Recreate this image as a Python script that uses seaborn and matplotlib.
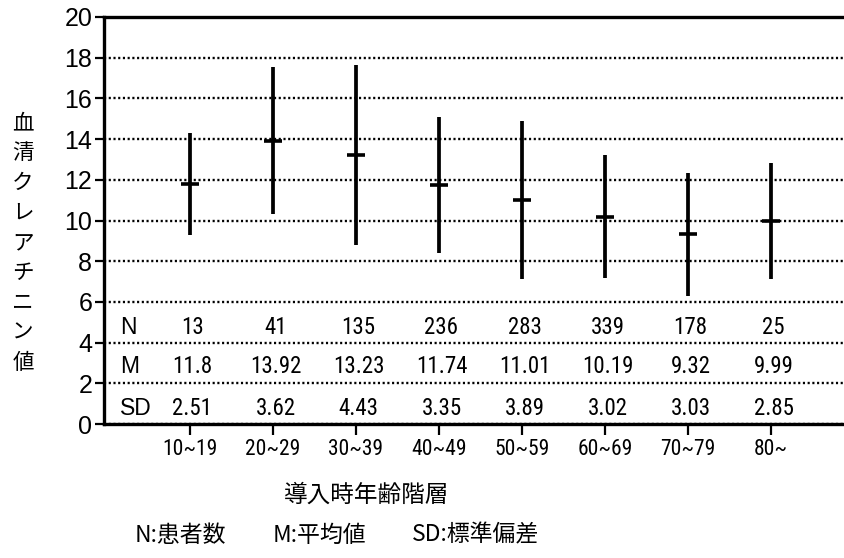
import matplotlib
matplotlib.use('Agg')
import matplotlib.pyplot as plt
from matplotlib import font_manager
import seaborn as sns
import pandas as pd

age_groups = ['10~19', '20~29', '30~39', '40~49', '50~59', '60~69', '70~79', '80~']
n_patients = [13, 41, 135, 236, 283, 339, 178, 25]
mean_values = [11.8, 13.92, 13.23, 11.74, 11.01, 10.19, 9.32, 9.99]
sd_values = [2.51, 3.62, 4.43, 3.35, 3.89, 3.02, 3.03, 2.85]
y_ticks = list(range(0, 21, 2))
ylabel_chars = list('血清クレアチニン値')
xlabel_text = '導入時年齢階層'
legend_texts = ['N:患者数', 'M:平均値', 'SD:標準偏差']


def pick_font(names):
    have = {f.name for f in font_manager.fontManager.ttflist}
    for n in names:
        if n in have:
            return n
    return 'DejaVu Sans'


sns.set_theme(style='ticks')
regular = pick_font(['Liberation Sans', 'Arial', 'DejaVu Sans'])
narrow = pick_font(['Liberation Sans Narrow', 'Roboto Condensed', 'Archivo Narrow', regular])
cjk = 'Noto Sans CJK JP'
plt.rcParams['font.family'] = [regular, cjk, 'DejaVu Sans']

df = pd.DataFrame({'pos': range(len(age_groups)), 'age': age_groups,
                   'mean': mean_values, 'sd': sd_values})

W, H = 844, 558
fig = plt.figure(figsize=(W / 100, H / 100), dpi=100)
ax = fig.add_axes([104 / W, (H - 424) / H, (W - 104) / W, (424 - 17) / H])

# mean +- SD bars, short dash at the mean
ax.errorbar(df['pos'], df['mean'], yerr=df['sd'], fmt='none',
            ecolor='black', elinewidth=2.7, capsize=0, zorder=3)
sns.scatterplot(data=df, x='pos', y='mean', marker='_', s=160,
                color='black', linewidth=2.6, legend=False, ax=ax, zorder=4)

ax.set_xlim(-1.036, 7.88)
ax.set_ylim(0, 20)
ax.set_yticks(y_ticks)
ax.set_yticklabels([str(v) for v in y_ticks], fontsize=18, family=[regular])
ax.set_xticks(df['pos'])
ax.set_xticklabels(age_groups, fontsize=15.5, family=[narrow])
ax.set_xlabel('')
ax.set_ylabel('')
ax.yaxis.grid(True, color='black', linestyle=(0, (0.9, 1.1)), linewidth=1.7)
ax.xaxis.grid(False)
ax.tick_params(axis='y', direction='out', length=6.5, width=1.6, pad=2, colors='black')
ax.tick_params(axis='x', direction='out', length=8, width=1.6, pad=3, colors='black')
for side in ['left', 'top', 'bottom']:
    ax.spines[side].set_linewidth(2.4)
    ax.spines[side].set_color('black')
ax.spines['right'].set_visible(False)

# table of N / M / SD inside the plot
rows = [('N', 4.4, [str(v) for v in n_patients]),
        ('M', 2.5, [str(v) for v in mean_values]),
        ('SD', 0.45, [str(v) for v in sd_values])]
for label, yb, vals in rows:
    ax.text(-0.84, yb, label, ha='left', va='baseline', fontsize=16.5,
            family=[regular], color='black')
    for i, v in enumerate(vals):
        ax.text(i + 0.03, yb, v, ha='center', va='baseline', fontsize=16.5,
                family=[narrow], color='black')

# vertical y-axis label, one character per line
for k, ch in enumerate(ylabel_chars):
    fig.text(23 / W, 1 - (123 + 30 * k) / H, ch, ha='center', va='center',
             fontsize=15.5, family=[cjk], color='black')

fig.text(367 / W, 1 - 495 / H, xlabel_text, ha='center', va='center',
         fontsize=17, family=[cjk], color='black')
for x0, t in zip([135, 273, 412], legend_texts):
    fig.text(x0 / W, 1 - 535 / H, t, ha='left', va='center',
             fontsize=16.5, family=[cjk], color='black')

fig.savefig('out.png', dpi=100, facecolor='white')
